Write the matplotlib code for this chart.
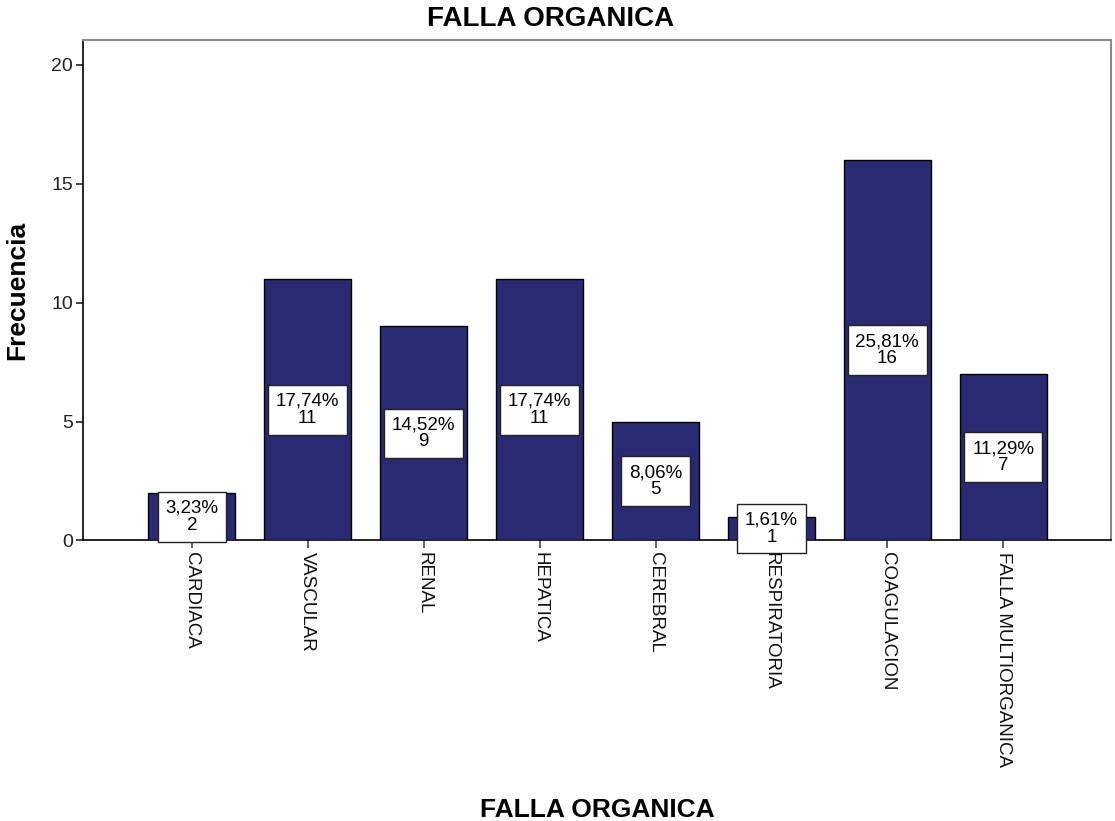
import matplotlib.pyplot as plt
import numpy as np

plt.rcParams['font.family'] = ['Liberation Sans', 'DejaVu Sans']

# data
categorias = ['CARDIACA', 'VASCULAR', 'RENAL', 'HEPATICA', 'CEREBRAL',
              'RESPIRATORIA', 'COAGULACION', 'FALLA MULTIORGANICA']
frecuencia = [2, 11, 9, 11, 5, 1, 16, 7]
porcentaje = ['3,23%', '17,74%', '14,52%', '17,74%', '8,06%',
              '1,61%', '25,81%', '11,29%']

fig = plt.figure(figsize=(11.15, 8.21), dpi=100)
ax = fig.add_axes([0.0744, 0.3417, 0.922, 0.6096])

x = np.arange(len(categorias))
ax.bar(x, frecuencia, width=0.75, color='#292a72', edgecolor='black',
       linewidth=1.0, zorder=3)

for xi, f, p in zip(x, frecuencia, porcentaje):     # label box in middle of bar
    ax.text(xi, f / 2, p + '\n' + str(f), ha='center', va='center',
            fontsize=13.5, linespacing=1.0, color='black', zorder=4,
            bbox=dict(boxstyle='square,pad=0.42', fc='white', ec='#222222', lw=1.0))

ax.set_xlim(-0.94, 7.93)
ax.set_ylim(0, 21.05)
ax.set_yticks([0, 5, 10, 15, 20])
ax.set_xticks(x)
ax.set_xticklabels(categorias, rotation=270, fontsize=13.5, color='#111111')
ax.tick_params(axis='y', labelsize=14, length=5, width=1.2, colors='#222222', pad=2)
ax.tick_params(axis='x', length=6, width=1.2, color='#444444', pad=2)

for s in ['left', 'bottom']:
    ax.spines[s].set_color('black')
    ax.spines[s].set_linewidth(1.2)
for s in ['top', 'right']:
    ax.spines[s].set_color('#8a8a8a')
    ax.spines[s].set_linewidth(1.5)

ax.set_ylabel('Frecuencia', fontsize=19, fontweight='bold')
ax.yaxis.set_label_coords(-0.052, 0.5)
ax.set_xlabel('FALLA ORGANICA', fontsize=19, fontweight='bold')
ax.xaxis.set_label_coords(0.5, -0.514)

fig.text(0.494, 1 - 26 / 821, 'FALLA ORGANICA', ha='center', va='baseline',
         fontsize=20, fontweight='bold')

plt.savefig('out.png', dpi=100)
